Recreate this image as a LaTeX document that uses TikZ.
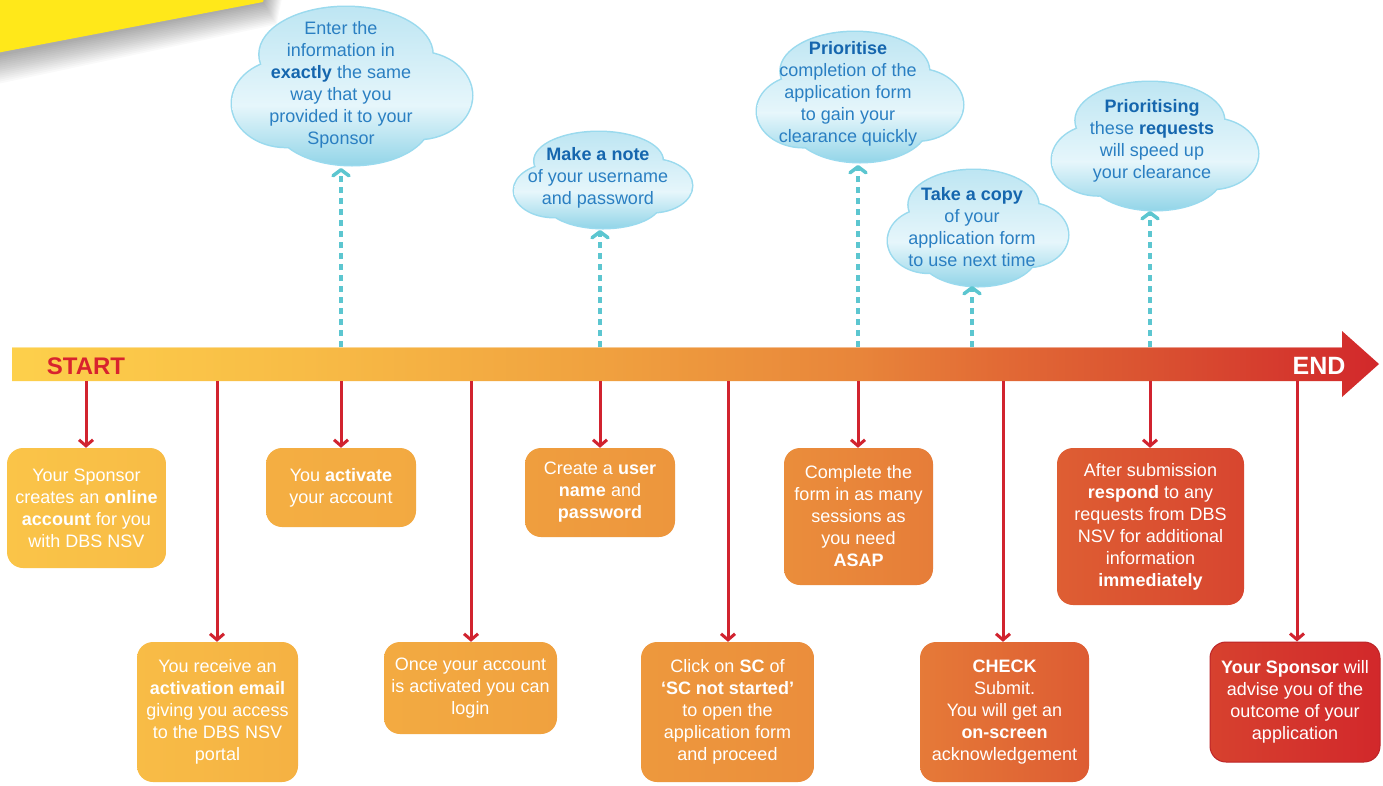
\documentclass[tikz,border=0pt]{standalone}
\usepackage{fontspec}
\setmainfont{Liberation Sans}
\usetikzlibrary{arrows.meta,shapes.geometric}
\definecolor{redline}{HTML}{D1232F}
\definecolor{cyanline}{HTML}{5CC6D0}
\definecolor{cloudtext}{HTML}{2A7FC2}
\definecolor{cloudbold}{HTML}{1566AE}
\definecolor{cloudborder}{HTML}{9ADAEE}
\definecolor{cloudtop}{HTML}{BCE5F2}
\definecolor{cloudmid}{HTML}{E6F6FB}
\definecolor{cloudbot}{HTML}{8ED3E7}
\definecolor{noteY}{HTML}{FFE81A}
\definecolor{noteL}{HTML}{FFF5A0}
\definecolor{startred}{HTML}{D8232E}
\definecolor{bc0}{HTML}{FDD04B}
\definecolor{bc1}{HTML}{F8BC46}
\definecolor{bc2}{HTML}{F0A13F}
\definecolor{bc3}{HTML}{E8853A}
\definecolor{bc4}{HTML}{E26A35}
\definecolor{bc5}{HTML}{DA5231}
\definecolor{bc6}{HTML}{D2282B}
\pgfdeclarehorizontalshading{barshade}{100bp}{color(0bp)=(bc0); color(25bp)=(bc0); color(35.5bp)=(bc1); color(46.5bp)=(bc2); color(56bp)=(bc3); color(61.1bp)=(bc4); color(66.6bp)=(bc5); color(75bp)=(bc6); color(100bp)=(bc6)}
\newcommand{\cbold}[1]{\textbf{\color{cloudbold}#1}}
\newcommand{\cloudlobes}[4]{%
 ({#1-0.05*#3},{#2-0.4*#4}) ellipse [x radius={0.72*#3 pt}, y radius={0.6*#4 pt}]
 ({#1-0.55*#3},{#2+0.22*#4}) ellipse [x radius={0.45*#3 pt}, y radius={0.55*#4 pt}]
 ({#1+0.55*#3},{#2+0.12*#4}) ellipse [x radius={0.45*#3 pt}, y radius={0.55*#4 pt}]
 ({#1},{#2+0.45*#4}) ellipse [x radius={0.65*#3 pt}, y radius={0.55*#4 pt}]}
\newcommand{\drawcloud}[4]{%
 \draw[line width=3pt, draw=cloudborder] \cloudlobes{#1}{#2}{#3}{#4};
 \begin{scope}
 \clip \cloudlobes{#1}{#2}{#3}{#4};
 \shade[top color=cloudtop, bottom color=cloudmid] ({#1-1.1*#3},{#2-1.05*#4}) rectangle ({#1+1.1*#3},{#2+0.25*#4});
 \shade[top color=cloudmid, bottom color=cloudbot] ({#1-1.1*#3},{#2+0.25*#4-0.5}) rectangle ({#1+1.1*#3},{#2+1.05*#4});
 \end{scope}}
\tikzset{
 box/.style={rounded corners=16pt, text=white, align=center, inner sep=0pt,
   font=\fontsize{18}{22}\selectfont},
 cloudtxt/.style={text=cloudtext, align=center, inner sep=0pt,
   font=\fontsize{18}{22}\selectfont},
 redarrow/.style={draw=redline, line width=3pt, -{Straight Barb[length=6pt,width=14pt,line width=3pt]}},
 cyanarrow/.style={draw=cyanline, line width=4pt, dash pattern=on 6pt off 5pt,
   -{Straight Barb[length=6pt,width=16pt,line width=3.5pt,round]}}
}
\begin{document}
\begin{tikzpicture}[x=1pt,y=-1pt]
\useasboundingbox (0,0) rectangle (1383,785);
\fill[white] (0,0) rectangle (1383,785);
% yellow note with soft shadow
\foreach \d in {2,4,...,30}{
 \fill[black, opacity=0.022] (-40,{62+\d}) -- ({263+0.45*\d},{2+0.75*\d}) -- ({285+0.45*\d},-80) -- (-40,-80) -- cycle;}
\shade[left color=noteY, middle color=noteL, right color=noteY] (-40,60) -- (263,2) -- (285,-80) -- (-40,-80) -- cycle;
% timeline bar
\shade[shading=barshade] (12,347) -- (1342,347) -- (1342,331) -- (1379,364) -- (1342,397) -- (1342,381) -- (12,381) -- cycle;
\draw[white, opacity=0.45, line width=1pt] (12,347.5) -- (1342,347.5);
\node[text=startred, font=\bfseries\fontsize{24}{24}\selectfont] (start) at (86,366) {START};
\node[text=white, font=\bfseries\fontsize{25}{25}\selectfont] (endl) at (1319,366) {END};
% coordinates on the bar
\foreach \n/\x in {1/86,2/217,3/341,4/471,5/600,6/728,7/858,8/1003,9/1150,10/1297}{
 \coordinate (t\n) at (\x,381);}
\foreach \n/\x in {1/341,2/600,3/858,4/972,5/1150}{
 \coordinate (u\n) at (\x,347);}
% boxes
\node[box, left color=bc0!40!bc1, right color=bc1, minimum width=159pt, minimum height=120pt] (b1) at (86.5,508)
 {Your Sponsor\\creates an \textbf{online}\\\textbf{account} for you\\with DBS NSV};
\node[box, left color=bc1, right color=bc1!60!bc2, minimum width=161pt, minimum height=140pt] (b2) at (217.5,712)
 {You receive an\\\textbf{activation email}\\giving you access\\to the DBS NSV\\portal};
\node[box, left color=bc1!50!bc2, right color=bc1!30!bc2, minimum width=150pt, minimum height=79pt] (b3) at (341,487.5)
 {You \textbf{activate}\\your account};
\node[box, left color=bc1!35!bc2, right color=bc2, minimum width=173pt, minimum height=92pt] (b4) at (470.5,688)
 {Once your account\\is activated you can\\login};
\node[box, left color=bc2!90!bc3, right color=bc2!60!bc3, minimum width=150pt, minimum height=89pt] (b5) at (600,492.5)
 {Create a \textbf{user}\\\textbf{name} and\\\textbf{password}};
\node[box, left color=bc2!70!bc3, right color=bc2!30!bc3, minimum width=173pt, minimum height=140pt] (b6) at (727.5,712)
 {Click on \textbf{SC} of\\\textbf{‘SC not started’}\\to open the\\application form\\and proceed};
\node[box, left color=bc2!30!bc3, right color=bc3!70!bc4, minimum width=149pt, minimum height=137pt] (b7) at (858.5,516.5)
 {Complete the\\form in as many\\sessions as\\you need\\\textbf{ASAP}};
\node[box, left color=bc3!60!bc4, right color=bc4!40!bc5, minimum width=169pt, minimum height=140pt] (b8) at (1004.5,712)
 {\textbf{CHECK}\\Submit.\\You will get an\\\textbf{on-screen}\\acknowledgement};
\node[box, left color=bc4!50!bc5, right color=bc5!70!bc6, minimum width=187pt, minimum height=157pt] (b9) at (1150.5,526.5)
 {After submission\\\textbf{respond} to any\\requests from DBS\\NSV for additional\\information\\\textbf{immediately}};
\node[box, draw=bc6!90!black, line width=1pt, left color=bc5!60!bc6, right color=bc6, minimum width=170pt, minimum height=120pt] (b10) at (1295,702)
 {\textbf{Your Sponsor} will\\advise you of the\\outcome of your\\application};
% red connectors
\foreach \n in {1,...,10}{
 \draw[redarrow] (t\n) -- (t\n |- b\n.north);}
% clouds
\drawcloud{352}{86}{120}{79}
\drawcloud{603}{180}{89}{48}
\drawcloud{860}{97}{103}{65}
\drawcloud{978}{228}{90}{58}
\drawcloud{1155}{146}{103}{64}
\node[cloudtxt] (c1) at (341,85) {Enter the\\information in\\\cbold{exactly} the same\\way that you\\provided it to your\\Sponsor};
\node[cloudtxt] (c2) at (598,178) {\cbold{Make a note}\\of your username\\and password};
\node[cloudtxt] (c3) at (848,94) {\cbold{Prioritise}\\completion of the\\application form\\to gain your\\clearance quickly};
\node[cloudtxt] (c4) at (972,227) {\cbold{Take a copy}\\of your\\application form\\to use next time};
\node[cloudtxt] (c5) at (1152,141) {\cbold{Prioritising}\\these \cbold{requests}\\will speed up\\your clearance};
\coordinate (k1) at (341,168);
\coordinate (k2) at (600,230);
\coordinate (k3) at (858,165);
\coordinate (k4) at (972,286);
\coordinate (k5) at (1150,211);
\foreach \n in {1,...,5}{
 \draw[cyanarrow] (u\n) -- (k\n);}
\end{tikzpicture}
\end{document}
